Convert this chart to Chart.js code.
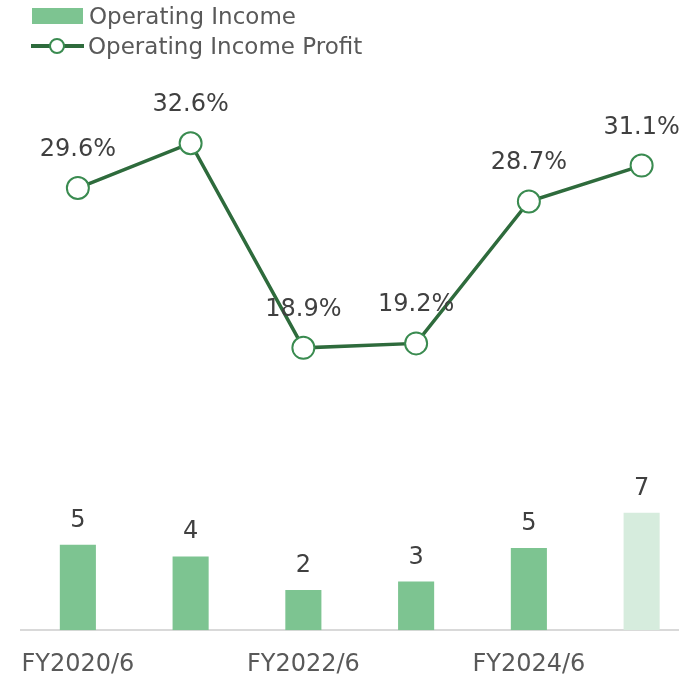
<!DOCTYPE html>
<html>
<head>
<meta charset="utf-8">
<script src="https://cdn.jsdelivr.net/npm/chart.js@4"></script>
<style>
  body { margin: 0; overflow: hidden; background: #fff; font-family: "DejaVu Sans", sans-serif; }
  #wrap { position: relative; width: 711px; height: 699px; }
  .leg { position: absolute; left: 32px; height: 28px; display: flex; align-items: center; color: #595959; font-size: 23px; }
  .sw { width: 51px; height: 16px; background: #7DC491; margin-right: 6px; }
  .ln { position: relative; width: 53px; height: 4px; background: #2E6B3C; margin-right: 4px; }
  .ln span { position: absolute; left: 18px; top: -6px; width: 16px; height: 16px; border: 2px solid #3A8B50; border-radius: 50%; background: #fff; box-sizing: border-box; }
</style>
</head>
<body>
<div id="wrap">
  <canvas id="myChart" width="711" height="699"></canvas>
  <div class="leg" style="top:2px"><div class="sw"></div>Operating Income</div>
  <div class="leg" style="top:32px;left:31px"><div class="ln"><span></span></div>Operating Income Profit</div>
</div>
<script>
const categories = ['FY2020/6', 'FY2021/6', 'FY2022/6', 'FY2023/6', 'FY2024/6', 'FY2025/6'];
const incomeValues = [5.1, 4.4, 2.4, 2.9, 4.9, 7.0];
const incomeLabels = ['5', '4', '2', '3', '5', '7'];
const marginValues = [29.6, 32.6, 18.9, 19.2, 28.7, 31.1];
const barColors = ['#7DC491', '#7DC491', '#7DC491', '#7DC491', '#7DC491', '#D6ECDD'];

const labelPlugin = {
    id: 'valueLabels',
    afterDatasetsDraw(chart) {
        const ctx = chart.ctx;
        ctx.save();
        ctx.font = '24px "DejaVu Sans"';
        ctx.fillStyle = '#404040';
        ctx.textAlign = 'center';
        ctx.textBaseline = 'alphabetic';
        chart.getDatasetMeta(1).data.forEach((bar, i) => {
            ctx.fillText(incomeLabels[i], bar.x, bar.y - 18);
        });
        chart.getDatasetMeta(0).data.forEach((pt, i) => {
            ctx.fillText(marginValues[i].toFixed(1) + '%', pt.x, pt.y - 32);
        });
        ctx.restore();
    }
};

const ctx = document.getElementById('myChart').getContext('2d');
const myChart = new Chart(ctx, {
    type: 'bar',
    data: {
        labels: categories,
        datasets: [{
            type: 'line',
            label: 'Operating Income Profit',
            data: marginValues,
            yAxisID: 'yLine',
            borderColor: '#2E6B3C',
            borderWidth: 3.5,
            pointRadius: 11,
            pointBorderWidth: 2,
            pointBorderColor: '#3A8B50',
            pointBackgroundColor: '#fff',
            tension: 0,
            order: 0
        }, {
            label: 'Operating Income',
            data: incomeValues,
            yAxisID: 'yBar',
            backgroundColor: barColors,
            barPercentage: 0.32,
            categoryPercentage: 1,
            order: 1
        }]
    },
    options: {
        responsive: false,
        animation: false,
        layout: { padding: { top: 70, left: 17, right: 0, bottom: 0 } },
        plugins: { legend: { display: false }, tooltip: { enabled: false } },
        scales: {
            x: {
                grid: { display: false, drawTicks: false },
                border: { color: '#D9D9D9', width: 2 },
                ticks: {
                    padding: 20,
                    maxRotation: 0,
                    autoSkip: false,
                    color: '#595959',
                    font: { family: 'DejaVu Sans', size: 24 },
                    callback: (v, i) => i % 2 === 0 ? categories[i] : ''
                }
            },
            yBar: { display: false, min: 0, max: 33.4 },
            yLine: { display: false, min: 0, max: 37.5 }
        }
    },
    plugins: [labelPlugin]
});
</script>
</body>
</html>
